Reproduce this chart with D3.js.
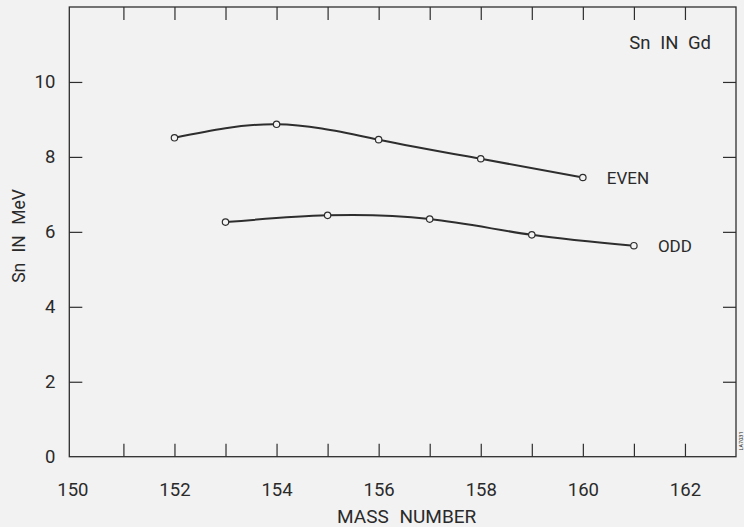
<!DOCTYPE html>
<html>
<head>
<meta charset="utf-8">
<script src="https://cdn.jsdelivr.net/npm/d3@7"></script>
<style>
  html, body { margin: 0; padding: 0; background: #f2f2f2; }
  svg { display: block; }
  text { font-family: Roboto, "DejaVu Sans", sans-serif; fill: #2a2a2a; }
</style>
</head>
<body>
<svg id="chart" width="744" height="527"></svg>
<script>
// Neutron separation energy of Gd isotopes (MeV)
const evenMass = [152, 154, 156, 158, 160];
const evenSn   = [8.51, 8.87, 8.46, 7.95, 7.45];
const oddMass  = [153, 155, 157, 159, 161];
const oddSn    = [6.26, 6.44, 6.34, 5.92, 5.63];
const xTicks = [150, 152, 154, 156, 158, 160, 162];
const xMinorTicks = [151, 152, 153, 154, 155, 156, 157, 158, 159, 160, 161, 162];
const yTicks = [0, 2, 4, 6, 8, 10];
const yInnerTicks = [2, 4, 6, 8, 10];

const svg = d3.select("#chart");
const ink = "#2e2e2e";
const plotL = 69.3, plotR = 736, plotT = 7, plotB = 456.7;

const x = d3.scaleLinear().domain([149.94, 163]).range([plotL, plotR]);
const y = d3.scaleLinear().domain([0, 12]).range([plotB, plotT]);

const g = svg.append("g");

// frame
g.append("rect")
  .attr("x", plotL).attr("y", plotT)
  .attr("width", plotR - plotL).attr("height", plotB - plotT)
  .attr("fill", "none").attr("stroke", ink).attr("stroke-width", 1.3);

const tickLen = 13;

// bottom axis: inward ticks, labels below
const xb = g.append("g").attr("transform", `translate(0,${plotB})`)
  .call(d3.axisBottom(x).tickValues(xMinorTicks).tickSizeInner(-tickLen).tickSizeOuter(0).tickFormat(""));
xb.select(".domain").remove();
xb.selectAll(".tick line").attr("stroke", ink).attr("stroke-width", 1.2);

const xl = g.append("g").attr("transform", `translate(0,${plotB})`)
  .call(d3.axisBottom(x).tickValues(xTicks).tickSize(0).tickPadding(26).tickFormat(d3.format("d")));
xl.select(".domain").remove();
xl.selectAll(".tick text").attr("font-size", 18.5).attr("fill", "#2a2a2a").attr("font-family", "Roboto, sans-serif");

// top axis: inward ticks
const xt = g.append("g").attr("transform", `translate(0,${plotT})`)
  .call(d3.axisTop(x).tickValues(xMinorTicks).tickSizeInner(-tickLen).tickSizeOuter(0).tickFormat(""));
xt.select(".domain").remove();
xt.selectAll(".tick line").attr("stroke", ink).attr("stroke-width", 1.2);

// left axis
const yl = g.append("g").attr("transform", `translate(${plotL},0)`)
  .call(d3.axisLeft(y).tickValues(yTicks).tickSize(0).tickPadding(14).tickFormat(d3.format("d")));
yl.select(".domain").remove();
yl.selectAll(".tick text").attr("font-size", 18.5).attr("fill", "#2a2a2a").attr("font-family", "Roboto, sans-serif");

const ylt = g.append("g").attr("transform", `translate(${plotL},0)`)
  .call(d3.axisLeft(y).tickValues(yInnerTicks).tickSizeInner(-tickLen).tickSizeOuter(0).tickFormat(""));
ylt.select(".domain").remove();
ylt.selectAll(".tick line").attr("stroke", ink).attr("stroke-width", 1.2);

// right axis
const yr = g.append("g").attr("transform", `translate(${plotR},0)`)
  .call(d3.axisRight(y).tickValues(yInnerTicks).tickSizeInner(-tickLen).tickSizeOuter(0).tickFormat(""));
yr.select(".domain").remove();
yr.selectAll(".tick line").attr("stroke", ink).attr("stroke-width", 1.2);

// curves
const line = d3.line()
  .x(d => x(d[0])).y(d => y(d[1]))
  .curve(d3.curveNatural);

const series = [
  { name: "EVEN", pts: evenMass.map((m, i) => [m, evenSn[i]]) },
  { name: "ODD",  pts: oddMass.map((m, i) => [m, oddSn[i]]) }
];

series.forEach(s => {
  g.append("path")
    .attr("d", line(s.pts))
    .attr("fill", "none").attr("stroke", ink).attr("stroke-width", 2);
  g.selectAll(null).data(s.pts).enter().append("circle")
    .attr("cx", d => x(d[0])).attr("cy", d => y(d[1]))
    .attr("r", 3.2)
    .attr("fill", "#f4f4f4").attr("stroke", ink).attr("stroke-width", 1.2);
  const last = s.pts[s.pts.length - 1];
  g.append("text")
    .attr("x", x(last[0]) + 24).attr("y", y(last[1]))
    .attr("dy", "0.36em")
    .attr("font-size", 17)
    .text(s.name);
});

// titles
g.append("text")
  .attr("x", 711).attr("y", 48.5)
  .attr("text-anchor", "end")
  .attr("font-size", 18.5)
  .attr("word-spacing", "5px")
  .text("Sn IN Gd");

g.append("text")
  .attr("x", (plotL + plotR) / 2 + 4).attr("y", 523)
  .attr("text-anchor", "middle")
  .attr("font-size", 19)
  .attr("word-spacing", "6px")
  .text("MASS NUMBER");

g.append("text")
  .attr("transform", "translate(25,236) rotate(-90)")
  .attr("text-anchor", "middle")
  .attr("font-size", 17.5)
  .attr("word-spacing", "6px")
  .text("Sn IN MeV");

// plate number
g.append("text")
  .attr("transform", "translate(743,441) rotate(-90)")
  .attr("text-anchor", "middle")
  .attr("font-size", 5.5)
  .attr("fill", "#777")
  .text("LA7031");
</script>
</body>
</html>
